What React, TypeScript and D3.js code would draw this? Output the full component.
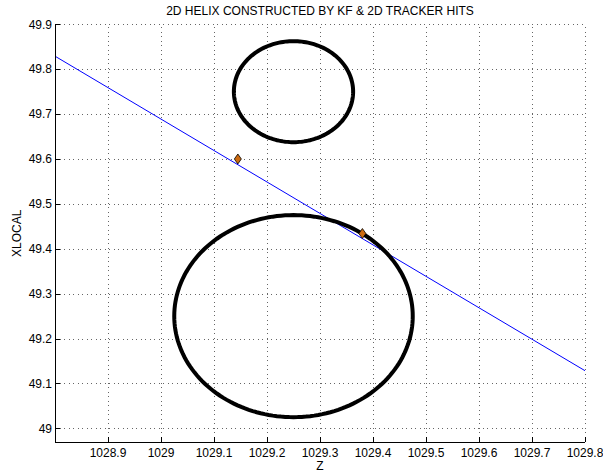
import React from "react";
import * as d3 from "d3";

// Axis ticks
const zTicks = [1028.9, 1029, 1029.1, 1029.2, 1029.3, 1029.4, 1029.5, 1029.6, 1029.7, 1029.8];
const xlocalTicks = [49, 49.1, 49.2, 49.3, 49.4, 49.5, 49.6, 49.7, 49.8, 49.9];

// Helix circles (centre and radius in Z / XLOCAL units)
const circleCenterZ = [1029.25, 1029.25];
const circleCenterX = [49.75, 49.25];
const circleRadius = [0.1125, 0.225];

// KF track line end points
const trackZ = [1028.8, 1029.8];
const trackX = [49.829, 49.1285];

// Tracker hits
const hitZ = [1029.145, 1029.38];
const hitX = [49.6, 49.434];

const W = 603;
const H = 473;
const FONT = "'Liberation Sans', Arial, Helvetica, sans-serif";

export default function App() {
  const x = d3.scaleLinear().domain([1028.8, 1029.8]).range([55, 585]);
  const y = d3.scaleLinear().domain([48.969, 49.9]).range([442.3, 24.3]);
  const [x0, x1] = x.range();
  const [y0, y1] = y.range();

  const line = d3
    .line<[number, number]>()
    .x((d) => x(d[0]))
    .y((d) => y(d[1]));

  const circlePaths = circleCenterZ.map((cz, i) => {
    const r = circleRadius[i];
    const pts: [number, number][] = d3
      .range(0, 361, 2)
      .map((a) => [cz + r * Math.cos((a * Math.PI) / 180), circleCenterX[i] + r * Math.sin((a * Math.PI) / 180)]);
    return line.curve(d3.curveLinearClosed)(pts) as string;
  });

  const trackPath = d3
    .line<number>()
    .x((_, i) => x(trackZ[i]))
    .y((d) => y(d))(trackX) as string;

  const grid = "#666";

  return (
    <svg
      width={W}
      height={H}
      style={{ position: "absolute", left: 0, top: 0, background: "#fff" }}
      fontFamily={FONT}
    >
      <rect width={W} height={H} fill="#fff" />
      {/* grid */}
      <g stroke={grid} strokeWidth={1} strokeDasharray="1,3.5" shapeRendering="crispEdges">
        {zTicks.map((t) => (
          <line key={"gz" + t} x1={Math.round(x(t)) + 0.5} x2={Math.round(x(t)) + 0.5} y1={y0} y2={y1} />
        ))}
        {xlocalTicks.map((t) => (
          <line key={"gy" + t} x1={x0} x2={x1} y1={Math.round(y(t)) + 0.5} y2={Math.round(y(t)) + 0.5} />
        ))}
      </g>

      {/* track */}
      <path d={trackPath} fill="none" stroke="#0000ff" strokeWidth={1} />

      {/* helix circles */}
      {circlePaths.map((d, i) => (
        <path key={"c" + i} d={d} fill="none" stroke="#000" strokeWidth={4} />
      ))}

      {/* hits */}
      {hitZ.map((hz, i) => {
        const cx = x(hz);
        const cy = y(hitX[i]);
        return (
          <path
            key={"h" + i}
            d={`M${cx},${cy - 5}L${cx + 3.5},${cy}L${cx},${cy + 5}L${cx - 3.5},${cy}Z`}
            fill="#cc6a10"
            stroke="#000"
            strokeWidth={0.8}
          />
        );
      })}

      {/* axes */}
      <g stroke="#000" strokeWidth={1} shapeRendering="crispEdges">
        <line x1={x0} x2={x1} y1={Math.round(y0) + 0.5} y2={Math.round(y0) + 0.5} />
        <line x1={Math.round(x0) + 0.5} x2={Math.round(x0) + 0.5} y1={y0} y2={y1} />
        {zTicks.map((t) => (
          <line key={"tz" + t} x1={Math.round(x(t)) + 0.5} x2={Math.round(x(t)) + 0.5} y1={y0} y2={y0 - 5} />
        ))}
        {xlocalTicks.map((t) => (
          <line key={"ty" + t} x1={x0} x2={x0 + 5} y1={Math.round(y(t)) + 0.5} y2={Math.round(y(t)) + 0.5} />
        ))}
      </g>

      {/* tick labels */}
      <g fontSize={12} fill="#000">
        {zTicks.map((t) => (
          <text key={"lz" + t} x={x(t)} y={y0 + 15} textAnchor="middle">
            {d3.format("")(t)}
          </text>
        ))}
        {xlocalTicks.map((t) => (
          <text key={"ly" + t} x={x0 - 3} y={y(t) + 4.3} textAnchor="end">
            {d3.format("")(t)}
          </text>
        ))}
      </g>

      {/* titles */}
      <text x={(x0 + x1) / 2} y={15} textAnchor="middle" fontSize={12}>
        2D HELIX CONSTRUCTED BY KF &amp; 2D TRACKER HITS
      </text>
      <text x={(x0 + x1) / 2} y={470} textAnchor="middle" fontSize={12}>
        Z
      </text>
      <text
        transform={`translate(21,${(y0 + y1) / 2}) rotate(-90)`}
        textAnchor="middle"
        fontSize={12}
      >
        XLOCAL
      </text>
    </svg>
  );
}
